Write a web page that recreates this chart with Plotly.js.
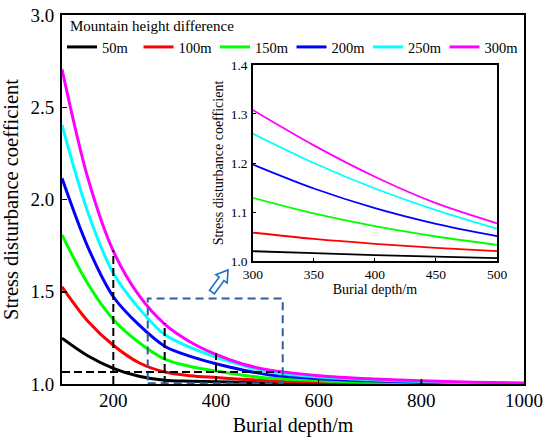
<!DOCTYPE html>
<html>
<head>
<meta charset="utf-8">
<script src="https://cdn.plot.ly/plotly-3.0.1.min.js"></script>
<style>
  html, body { margin: 0; padding: 0; background: #fff; }
  #chart { width: 550px; height: 445px; }
</style>
</head>
<body>
<div id="chart"></div>
<script>
// ---- data ----
const seriesNames = ["50m", "100m", "150m", "200m", "250m", "300m"];

// main chart readings
const depth = [100, 150, 200, 250, 300, 350, 400, 450, 500, 600, 700, 800, 900, 1000];
const h50  = [1.248, 1.153, 1.085, 1.042, 1.020, 1.015, 1.012, 1.009, 1.006, 1.003, 1.002, 1.001, 1.000, 1.000];
const h100 = [1.527, 1.342, 1.210, 1.115, 1.065, 1.045, 1.035, 1.026, 1.018, 1.010, 1.006, 1.003, 1.002, 1.001];
const h150 = [1.808, 1.545, 1.350, 1.225, 1.135, 1.095, 1.070, 1.049, 1.032, 1.018, 1.010, 1.006, 1.003, 1.001];
const h200 = [2.115, 1.745, 1.473, 1.320, 1.205, 1.150, 1.110, 1.077, 1.051, 1.029, 1.017, 1.010, 1.005, 1.002];
const h250 = [2.404, 1.934, 1.600, 1.410, 1.268, 1.198, 1.145, 1.103, 1.066, 1.038, 1.023, 1.013, 1.007, 1.003];
const h300 = [2.706, 2.120, 1.720, 1.480, 1.325, 1.228, 1.160, 1.110, 1.078, 1.045, 1.028, 1.018, 1.010, 1.005];
const mainSeries = [h50, h100, h150, h200, h250, h300];

// inset chart readings (300–500 m)
const depthInset = [300, 350, 400, 450, 500];
const i50  = [1.020, 1.016, 1.012, 1.009, 1.006];
const i100 = [1.058, 1.045, 1.035, 1.027, 1.020];
const i150 = [1.129, 1.097, 1.071, 1.050, 1.033];
const i200 = [1.197, 1.148, 1.108, 1.076, 1.051];
const i250 = [1.260, 1.200, 1.148, 1.104, 1.066];
const i300 = [1.308, 1.236, 1.172, 1.118, 1.077];
const insetSeries = [i50, i100, i150, i200, i250, i300];

// guide lines
const guideDepths = [200, 300, 400, 800];   // vertical black dashed lines up to the 300m curve
const guideLevel = 1.065;                    // horizontal black dashed line
const guideLevelEnd = 525;
const zoomBox = {x0: 267, x1: 530, y0: 1.004, y1: 1.464};

// ---- styles ----
const colors = ["#000000", "#ff0000", "#00ff00", "#0000ff", "#00ffff", "#ff00ff"];
const FONT = "Liberation Serif, Times New Roman, serif";

// plot area geometry (px)
const M = {l: 62, r: 26, t: 15, b: 61};
const W = 550, H = 445;
const PW = W - M.l - M.r, PH = H - M.t - M.b;
function toPaper(px, py) { return [(px - M.l) / PW, (H - M.b - py) / PH]; }

const traces = [];
mainSeries.forEach((s, i) => {
  traces.push({
    x: depth, y: s, type: "scatter", mode: "lines", name: seriesNames[i],
    line: {color: colors[i], width: 3, shape: "spline", smoothing: 0.9},
    xaxis: "x", yaxis: "y", showlegend: true, hoverinfo: "skip"
  });
});
insetSeries.forEach((s, i) => {
  traces.push({
    x: depthInset, y: s, type: "scatter", mode: "lines", name: seriesNames[i],
    line: {color: colors[i], width: 1.8, shape: "spline", smoothing: 0.9},
    xaxis: "x2", yaxis: "y2", showlegend: false, hoverinfo: "skip"
  });
});

const shapes = [];
guideDepths.forEach(d => {
  const idx = depth.indexOf(d);
  shapes.push({type: "line", xref: "x", yref: "y", x0: d, x1: d, y0: 1.0, y1: h300[idx] + 0.006,
    line: {color: "#000", width: 2, dash: "8px,4px"}});
});
shapes.push({type: "line", xref: "x", yref: "y", x0: 100, x1: guideLevelEnd, y0: guideLevel, y1: guideLevel,
  line: {color: "#000", width: 2, dash: "8px,4px"}});
shapes.push({type: "rect", xref: "x", yref: "y", x0: zoomBox.x0, x1: zoomBox.x1, y0: zoomBox.y0, y1: zoomBox.y1,
  line: {color: "#2e5f9e", width: 2, dash: "8px,5px"}, fillcolor: "rgba(0,0,0,0)"});

// hollow arrow (decoration)
(function () {
  const tail = [212, 292], tip = [228, 270];
  const dx = tip[0] - tail[0], dy = tip[1] - tail[1];
  const len = Math.hypot(dx, dy), ux = dx / len, uy = dy / len, vx = -uy, vy = ux;
  const headL = 11, sw = 3, hw = 7;
  const local = [[0, -sw], [len - headL, -sw], [len - headL, -hw], [len, 0], [len - headL, hw], [len - headL, sw], [0, sw]];
  const pts = local.map(([u, v]) => toPaper(tail[0] + u * ux + v * vx, tail[1] + u * uy + v * vy));
  const path = "M" + pts.map(p => p[0].toFixed(4) + "," + p[1].toFixed(4)).join("L") + "Z";
  shapes.push({type: "path", xref: "paper", yref: "paper", path: path,
    line: {color: "#1e6fc8", width: 1.6}, fillcolor: "#ffffff"});
})();

const legTitle = toPaper(68, 26);

const layout = {
  width: W, height: H,
  margin: M,
  paper_bgcolor: "#ffffff", plot_bgcolor: "#ffffff",
  font: {family: FONT, color: "#000"},
  showlegend: true,
  legend: {
    orientation: "h", x: 0.0, y: toPaper(0, 31)[1], xanchor: "left", yanchor: "top",
    bgcolor: "rgba(0,0,0,0)", borderwidth: 0,
    font: {family: FONT, size: 14.5, color: "#000"},
    entrywidth: 31.5, entrywidthmode: "pixels",
    tracegroupgap: 0, itemclick: false
  },
  annotations: [{
    text: "Mountain height difference", xref: "paper", yref: "paper",
    x: legTitle[0], y: legTitle[1], xanchor: "left", yanchor: "middle", showarrow: false,
    font: {family: FONT, size: 15, color: "#000"}
  }],
  xaxis: {
    domain: [0, 1], range: [100, 1000], tickvals: [200, 400, 600, 800, 1000],
    showgrid: false, zeroline: false, showline: true, linecolor: "#000", linewidth: 2, mirror: true,
    ticks: "inside", ticklen: 5, tickwidth: 1.5, tickcolor: "#000",
    tickfont: {family: FONT, size: 19}, ticklabelstandoff: -2,
    title: {text: "Burial depth/m", font: {family: FONT, size: 20}, standoff: 8},
    anchor: "y", fixedrange: true
  },
  yaxis: {
    domain: [0, 1], range: [1.0, 3.0], tickvals: [1.0, 1.5, 2.0, 2.5, 3.0], ticktext: ["1.0", "1.5", "2.0", "2.5", "3.0"],
    showgrid: false, zeroline: false, showline: true, linecolor: "#000", linewidth: 2, mirror: true,
    ticks: "inside", ticklen: 5, tickwidth: 1.5, tickcolor: "#000",
    tickfont: {family: FONT, size: 19}, ticklabelstandoff: 2,
    title: {text: "Stress disturbance coefficient", font: {family: FONT, size: 20.5}, standoff: 10},
    anchor: "x", fixedrange: true
  },
  xaxis2: {
    domain: [0.413, 0.9416], range: [300, 500], tickvals: [300, 350, 400, 450, 500],
    showgrid: false, zeroline: false, showline: true, linecolor: "#000", linewidth: 1.5, mirror: true,
    ticks: "inside", ticklen: 3, tickwidth: 1, tickcolor: "#000",
    tickfont: {family: FONT, size: 13.5}, ticklabelstandoff: 0,
    title: {text: "Burial depth/m", font: {family: FONT, size: 14}, standoff: 1},
    anchor: "y2", fixedrange: true
  },
  yaxis2: {
    domain: [0.3333, 0.8645], range: [1.0, 1.4], tickvals: [1.0, 1.1, 1.2, 1.3, 1.4], ticktext: ["1.0", "1.1", "1.2", "1.3", "1.4"],
    showgrid: false, zeroline: false, showline: true, linecolor: "#000", linewidth: 1.5, mirror: true,
    ticks: "inside", ticklen: 3, tickwidth: 1, tickcolor: "#000",
    tickfont: {family: FONT, size: 13.5}, ticklabelstandoff: 1,
    title: {text: "Stress disturbance coefficient", font: {family: FONT, size: 14}, standoff: 4},
    anchor: "x2", fixedrange: true
  },
  shapes: shapes
};

Plotly.newPlot("chart", traces, layout, {staticPlot: true, displayModeBar: false});
</script>
</body>
</html>
